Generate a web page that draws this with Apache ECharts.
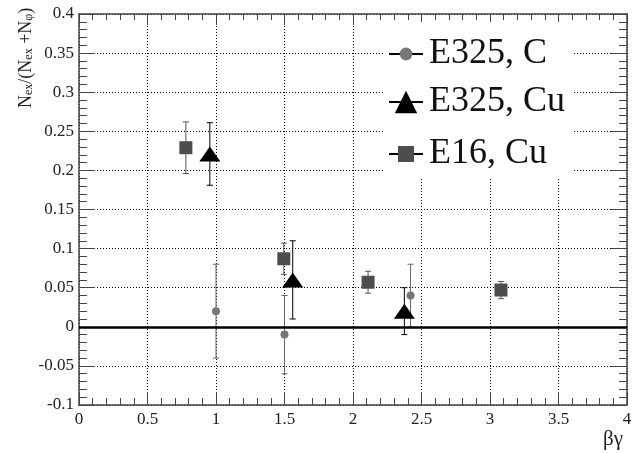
<!DOCTYPE html>
<html>
<head>
<meta charset="utf-8">
<script src="https://cdn.jsdelivr.net/npm/echarts@6.0.0/dist/echarts.min.js"></script>
<style>
html, body { margin: 0; padding: 0; background: #fff; }
#main { width: 637px; height: 453px; }
</style>
</head>
<body>
<div id="main"></div>
<script>
// [beta*gamma, ratio, error]
const e325C = [[1.0, 0.02, 0.06], [1.5, -0.01, 0.05], [2.42, 0.04, 0.04]];
const e325Cu = [[0.955, 0.221, 0.04], [1.56, 0.06, 0.05], [2.375, 0.02, 0.03]];
const e16Cu = [[0.78, 0.229, 0.033], [1.495, 0.087, 0.02], [2.11, 0.057, 0.014], [3.08, 0.047, 0.011]];
const seriesNames = ['E325, C', 'E325, Cu', 'E16, Cu'];

const serif = 'Liberation Serif';
const frame = '#444';

function errBars(name, data, color) {
	return {
		type: 'custom',
		name: name + ' err',
		z: 1,
		data: data,
		renderItem: (params, api) => {
			const x = api.value(0), y = api.value(1), e = api.value(2);
			const hi = api.coord([x, y + e]);
			const lo = api.coord([x, y - e]);
			const style = { stroke: color, lineWidth: 1 };
			return {
				type: 'group',
				children: [
					{ type: 'line', shape: { x1: hi[0], y1: hi[1], x2: lo[0], y2: lo[1] }, style },
					{ type: 'line', shape: { x1: hi[0] - 3, y1: hi[1], x2: hi[0] + 3, y2: hi[1] }, style },
					{ type: 'line', shape: { x1: lo[0] - 3, y1: lo[1], x2: lo[0] + 3, y2: lo[1] }, style },
				],
			};
		},
	};
}

function points(name, data, symbol, size, color) {
	return {
		type: 'line',
		name: name,
		z: 3,
		data: data.map(d => [d[0], d[1]]),
		symbol: symbol,
		symbolSize: size,
		showSymbol: true,
		lineStyle: { opacity: 0 },
		itemStyle: { color: color, opacity: 1 },
		emphasis: { disabled: true },
	};
}

function legendFor(i, top, h) {
	return {
		data: [seriesNames[i]],
		left: 388,
		top: top,
		padding: 0,
		itemWidth: 34,
		itemHeight: h,
		selectedMode: false,
		lineStyle: { color: '#000', width: 2, opacity: 1 },
		textStyle: { fontFamily: serif, fontSize: 36, color: '#111', lineHeight: 40, padding: [0, 0, 0, 1] },
	};
}

const xCommon = { type: 'value', min: 0, max: 4, interval: 0.5 };
const yCommon = { type: 'value', min: -0.1, max: 0.4, interval: 0.05 };
const lineFrame = { show: true, onZero: false, lineStyle: { color: frame, width: 1.5 } };

echarts.init(document.getElementById('main')).setOption({
	animation: false,
	grid: { left: 79, right: 10, top: 14, bottom: 48, containLabel: false, outerBoundsMode: 'none' },
	graphic: [{
		type: 'rect', z: 3,
		shape: { x: 383, y: 22, width: 189, height: 155 },
		style: { fill: '#fff' },
	}],
	legend: [legendFor(0, 34, 16), legendFor(1, 82, 28), legendFor(2, 134, 20)],
	xAxis: [{
		...xCommon,
		position: 'bottom',
		axisLine: lineFrame,
		axisTick: { inside: true, length: 13, lineStyle: { color: frame } },
		minorTick: { show: true, splitNumber: 5, length: 7, lineStyle: { color: frame } },
		axisLabel: { fontFamily: serif, fontSize: 17, color: '#222', margin: 6 },
		splitLine: { show: true, lineStyle: { type: [1, 2], color: '#000', width: 1 } },
		name: 'βγ',
		nameLocation: 'end',
		nameGap: -24,
		nameMoveOverlap: false,
		nameTextStyle: { fontFamily: serif, fontSize: 21, color: '#222', verticalAlign: 'top', padding: [24, 0, 0, 0] },
	}, {
		...xCommon,
		position: 'top',
		axisLine: lineFrame,
		axisTick: { inside: true, length: 11, lineStyle: { color: frame } },
		minorTick: { show: true, splitNumber: 5, length: 6, lineStyle: { color: frame } },
		axisLabel: { show: false },
		splitLine: { show: false },
	}],
	yAxis: [{
		...yCommon,
		position: 'left',
		axisLine: lineFrame,
		axisTick: { inside: true, length: 16, lineStyle: { color: frame } },
		minorTick: { show: true, splitNumber: 5, length: 8, lineStyle: { color: frame } },
		axisLabel: { fontFamily: serif, fontSize: 17, color: '#222', margin: 5 },
		splitLine: { show: true, lineStyle: { type: [1, 2], color: '#000', width: 1 } },
		name: 'N{sub|ex}/(N{sub|ex} +N{sub|φ})',
		nameLocation: 'end',
		nameRotate: 90,
		nameGap: -94,
		nameMoveOverlap: false,
		nameTextStyle: {
			fontFamily: serif, fontSize: 18, color: '#222',
			align: 'left', verticalAlign: 'bottom', padding: [0, 0, 44, 0],
			rich: { sub: { fontFamily: serif, fontSize: 12, color: '#222', verticalAlign: 'bottom', padding: [6, 0, 0, 0] } },
		},
	}, {
		...yCommon,
		position: 'right',
		axisLine: lineFrame,
		axisTick: { inside: true, length: 16, lineStyle: { color: frame } },
		minorTick: { show: true, splitNumber: 5, length: 8, lineStyle: { color: frame } },
		axisLabel: { show: false },
		splitLine: { show: false },
	}],
	series: [
		{
			...errBars('E325, C', e325C, '#666'),
			markLine: {
				silent: true, symbol: 'none', label: { show: false },
				lineStyle: { color: '#000', width: 2.5, type: 'solid' },
				data: [{ yAxis: 0 }],
			},
		},
		errBars('E325, Cu', e325Cu, '#000'),
		errBars('E16, Cu', e16Cu, '#555'),
		points('E325, C', e325C, 'circle', 8, '#777'),
		points('E325, Cu', e325Cu, 'triangle', [21, 15], '#000'),
		points('E16, Cu', e16Cu, 'rect', 13, '#4d4d4d'),
	],
});
</script>
</body>
</html>
